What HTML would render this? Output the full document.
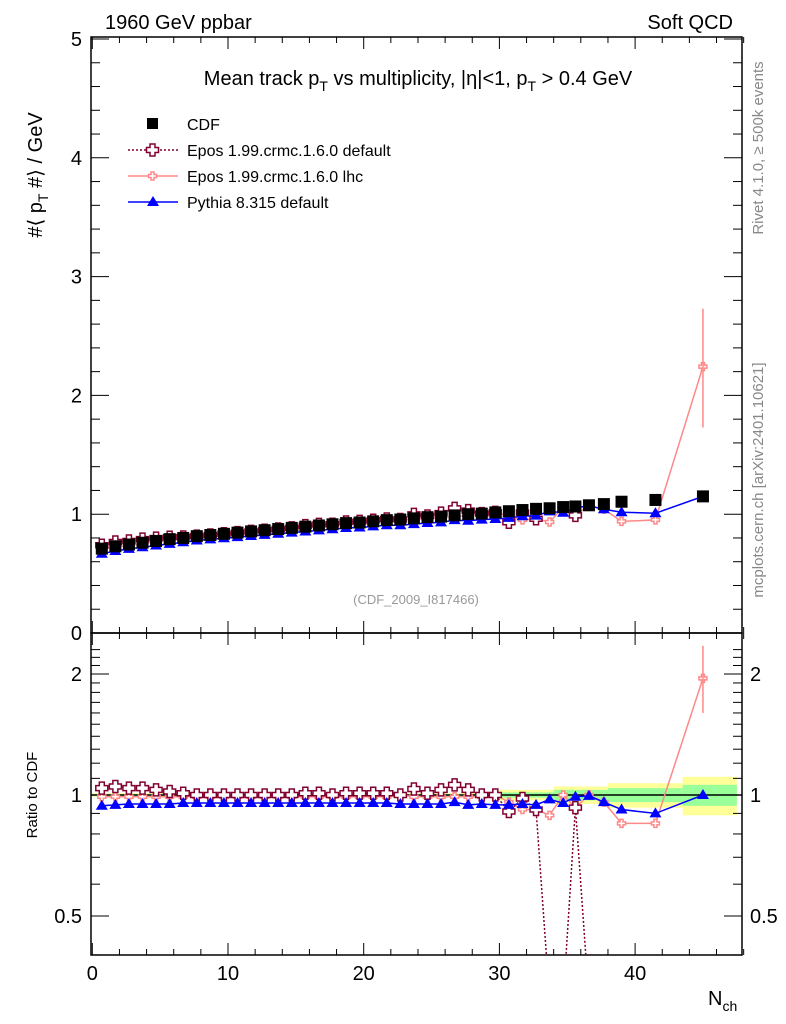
<!DOCTYPE html>
<html><head><meta charset="utf-8"><style>
html,body{margin:0;background:#fff;width:786px;height:1024px;overflow:hidden}
svg{font-family:"Liberation Sans",sans-serif;display:block;overflow:hidden}
</style></head><body>
<svg id="c" width="786" height="1024" xmlns="http://www.w3.org/2000/svg">
<defs>
<clipPath id="cm"><rect x="91" y="37" width="651" height="596"/></clipPath>
<clipPath id="cr"><rect x="91" y="633" width="651" height="322"/></clipPath>
</defs>
<g id="bands" clip-path="url(#cr)"></g>
<g id="grid"></g>
<text x="105" y="29" font-size="20">1960 GeV ppbar</text>
<text x="733" y="29" font-size="20" text-anchor="end">Soft QCD</text>
<text x="418" y="85" font-size="20" text-anchor="middle">Mean track p<tspan font-size="14" dy="6">T</tspan><tspan dy="-6"> vs multiplicity, |η|&lt;1, p</tspan><tspan font-size="14" dy="6">T</tspan><tspan dy="-6"> &gt; 0.4 GeV</tspan></text>
<text x="416" y="604" font-size="13" fill="#999" text-anchor="middle">(CDF_2009_I817466)</text>
<text transform="translate(42,175) rotate(-90)" font-size="20" text-anchor="middle">#⟨ p<tspan font-size="14" dy="6">T</tspan><tspan dy="-6"> #⟩ / GeV</tspan></text>
<text transform="translate(37,795) rotate(-90)" font-size="15" text-anchor="middle">Ratio to CDF</text>
<text x="708" y="1005" font-size="20">N<tspan font-size="14" dy="6">ch</tspan></text>
<text transform="translate(763,148) rotate(-90)" font-size="15" fill="#888" text-anchor="middle">Rivet 4.1.0, ≥ 500k events</text>
<text transform="translate(763,480) rotate(-90)" font-size="15" fill="#888" text-anchor="middle">mcplots.cern.ch [arXiv:2401.10621]</text>
<g id="legend">
<rect x="147" y="118" width="11" height="11" fill="#000"/>
<text x="187" y="130" font-size="16">CDF</text>
<line x1="128" y1="150" x2="178" y2="150" stroke="#800030" stroke-dasharray="2,2" stroke-width="1.5"/>
<path d="M150,144h5v3.5h3.5v5h-3.5v3.5h-5v-3.5h-3.5v-5h3.5z" fill="#fff" stroke="#800030" stroke-width="1.5"/>
<text x="187" y="156" font-size="16">Epos 1.99.crmc.1.6.0 default</text>
<line x1="128" y1="176" x2="178" y2="176" stroke="#f88" stroke-width="1.5"/>
<path d="M151,172h3v2.5h2.5v3h-2.5v2.5h-3v-2.5h-2.5v-3h2.5z" fill="#fff" stroke="#f88" stroke-width="1.5"/>
<text x="187" y="182" font-size="16">Epos 1.99.crmc.1.6.0 lhc</text>
<line x1="128" y1="202" x2="178" y2="202" stroke="#00f" stroke-width="1.5"/>
<path d="M153,196l6,10h-12z" fill="#00f"/>
<text x="187" y="208" font-size="16">Pythia 8.315 default</text>
</g>
<g id="marks"></g>
</svg>
<script>
const nch = [0.7,1.7,2.7,3.7,4.7,5.7,6.7,7.7,8.7,9.7,10.7,11.7,12.7,13.7,14.7,15.7,16.7,17.7,18.7,19.7,20.7,21.7,22.7,23.7,24.7,25.7,26.7,27.7,28.7,29.7,30.7,31.7,32.7,33.7,34.7,35.6,36.6,37.7,39.0,41.5,45.0];
const cdfVals = [0.71,0.73,0.745,0.76,0.775,0.79,0.80,0.815,0.825,0.835,0.845,0.855,0.865,0.875,0.885,0.895,0.905,0.915,0.925,0.93,0.94,0.95,0.955,0.965,0.975,0.98,0.99,1.0,1.005,1.015,1.025,1.035,1.045,1.05,1.06,1.065,1.075,1.085,1.105,1.12,1.15];
const pythiaRatio = [0.94,0.945,0.95,0.95,0.95,0.95,0.955,0.955,0.955,0.955,0.955,0.955,0.955,0.955,0.955,0.955,0.955,0.955,0.955,0.955,0.955,0.955,0.95,0.95,0.95,0.95,0.96,0.945,0.95,0.945,0.945,0.95,0.945,0.975,0.955,0.99,0.995,0.96,0.92,0.9,1.0];
const eposDefRatio = [1.04,1.05,1.04,1.04,1.03,1.02,1.01,1.0,1.0,1.0,1.0,1.0,1.0,1.0,1.0,1.01,1.01,1.0,1.01,1.01,1.01,1.01,1.0,1.035,1.01,1.03,1.06,1.03,1.0,1.0,0.91,0.98,0.92,0.1,0.1,0.93,0.1];
const eposLhcRatio = [0.99,0.99,0.99,0.99,0.99,0.99,0.99,0.99,0.99,0.99,0.99,0.99,0.99,0.99,0.99,0.99,0.99,0.99,0.99,0.99,0.99,0.99,1.0,0.99,0.99,0.99,0.99,0.99,0.99,1.0,0.96,0.92,0.92,0.89,1.0,0.93,1.0,0.96,0.85,0.85,1.95];
const bandEdges = [0,30,34,38,43.5,47.5];
const bandYellow = [0.01,0.03,0.05,0.07,0.11];
const bandGreen = [0.005,0.015,0.03,0.04,0.06];
const xTicks = [0,10,20,30,40];
const yTicks = [0,1,2,3,4,5];
const rTicks = [0.5,1,2];

const X = v => 92.3 + v*13.57;
const Y = v => 633 - v*118.8;
const R = v => 795 - 121*Math.log2(v);
const NS = "http://www.w3.org/2000/svg";
const svg = document.getElementById('c');
function mk(tag, attrs, parent){const e=document.createElementNS(NS,tag);for(const k in attrs)e.setAttribute(k,attrs[k]);(parent||svg).appendChild(e);return e;}
const bands=document.getElementById('bands'), grid=document.getElementById('grid'), marks=document.getElementById('marks');

for(let i=0;i<bandYellow.length;i++){
  const x1=X(bandEdges[i]), x2=X(bandEdges[i+1]);
  const y=mk('rect',{x:x1,y:R(1+bandYellow[i]),width:x2-x1,height:R(1-bandYellow[i])-R(1+bandYellow[i]),fill:'#ffff99'},bands);
  
  
  const g=mk('rect',{x:x1,y:R(1+bandGreen[i]),width:x2-x1,height:R(1-bandGreen[i])-R(1+bandGreen[i]),fill:'#99ff99'},bands);
  
  
}
mk('line',{x1:91,x2:742,y1:795,y2:795,stroke:'#000','stroke-width':1.5},grid);

for(const f of [[37,633],[633,955]]){
  const r=mk('rect',{x:91,y:f[0],width:651,height:f[1]-f[0],fill:'none',stroke:'#000','stroke-width':1.5},grid);
  
  
}
for(let v=0;v<=48;v+=2){
  const maj=v%10===0, l=maj?12:6;
  for(const [t,b] of [[37,633],[633,955]]){
    mk('line',{x1:X(v),x2:X(v),y1:t,y2:t+l,stroke:'#000'},grid);
    mk('line',{x1:X(v),x2:X(v),y1:b,y2:b-l,stroke:'#000'},grid);
  }
}
xTicks.forEach(v=>{const t=mk('text',{x:X(v),y:980,'font-size':20,'text-anchor':'middle'},grid);t.textContent=v;

});
for(let v=0;v<=5.001;v+=0.2){
  const maj=Math.abs(v-Math.round(v))<1e-6,l=maj?18:9;
  mk('line',{x1:91,x2:91+l,y1:Y(v),y2:Y(v),stroke:'#000'},grid);
  mk('line',{x1:742,x2:742-l,y1:Y(v),y2:Y(v),stroke:'#000'},grid);
}
yTicks.forEach(v=>{const t=mk('text',{x:82,y:Y(v)+7,'font-size':20,'text-anchor':'end'},grid);t.textContent=v;

});
const rminor=[0.4,0.5,0.6,0.7,0.8,0.9,1,1.1,1.2,1.3,1.4,1.5,1.6,1.7,1.8,1.9,2,2.1,2.2,2.3];
rminor.forEach(v=>{const maj=rTicks.includes(v),l=maj?18:9;const y=R(v);if(y<633||y>955)return;
  mk('line',{x1:91,x2:91+l,y1:y,y2:y,stroke:'#000'},grid);
  mk('line',{x1:742,x2:742-l,y1:y,y2:y,stroke:'#000'},grid);});
rTicks.forEach(v=>{
  const t=mk('text',{x:82,y:R(v)+7,'font-size':20,'text-anchor':'end'},grid);t.textContent=v;
  
  
  const t2=mk('text',{x:750,y:R(v)+7,'font-size':20},grid);t2.textContent=v;
  
  
});

function marker(type,x,y,col,par,name){
  let e;
  if(type==='sq') e=mk('rect',{x:x-6,y:y-6,width:12,height:12,fill:'#000'},par);
  else if(type==='tri') e=mk('path',{d:`M${x},${y-6}l6,10h-12z`,fill:'#00f'},par);
  else if(type==='bigcross') e=mk('path',{d:`M${x-2.5},${y-6}h5v3.5h3.5v5h-3.5v3.5h-5v-3.5h-3.5v-5h3.5z`,fill:'#fff',stroke:col,'stroke-width':1.5},par);
  else e=mk('path',{d:`M${x-1.5},${y-4}h3v2.5h2.5v3h-2.5v2.5h-3v-2.5h-2.5v-3h2.5z`,fill:'#fff',stroke:col,'stroke-width':1.5},par);
  
  
}
function series(ratio,col,dash,type,name){
  const gm=mk('g',{'clip-path':'url(#cm)'},marks), gr=mk('g',{'clip-path':'url(#cr)'},marks);
  
  
  
  
  let pm='',pr='',brk=true;
  ratio.forEach((r,i)=>{const x=X(nch[i]);
    if(r<0.3){brk=true;}else{pm+=(brk?'M':'L')+x+','+Y(r*cdfVals[i]);brk=false;}
    pr+=(pr?'L':'M')+x+','+Math.min(R(r),1000);});
  const a={fill:'none',stroke:col,'stroke-width':1.5};if(dash)a['stroke-dasharray']=dash;
  mk('path',Object.assign({d:pm},a),gm);mk('path',Object.assign({d:pr},a),gr);
  ratio.forEach((r,i)=>{if(r<0.3)return;const x=X(nch[i]);
    marker(type,x,Y(r*cdfVals[i]),col,gm,name+'-point');marker(type,x,R(r),col,gr,name+'-ratio-point');});
}
series(eposLhcRatio,'#f88',null,'cross','epos-lhc');
series(eposDefRatio,'#800030','2,2','bigcross','epos-default');
{const i=eposLhcRatio.length-1,x=X(nch[i]);
 mk('line',{x1:x,x2:x,y1:Y(2.73),y2:Y(1.73),stroke:'#f88','stroke-width':1.5},marks);
 mk('line',{x1:x,x2:x,y1:R(2.35),y2:R(1.6),stroke:'#f88','stroke-width':1.5},marks);}
series(pythiaRatio,'#00f',null,'tri','pythia');
const gc=mk('g',{'clip-path':'url(#cm)'},marks);


cdfVals.forEach((v,i)=>marker('sq',X(nch[i]),Y(v),'#000',gc,'cdf-point'));
</script>
</body></html>
